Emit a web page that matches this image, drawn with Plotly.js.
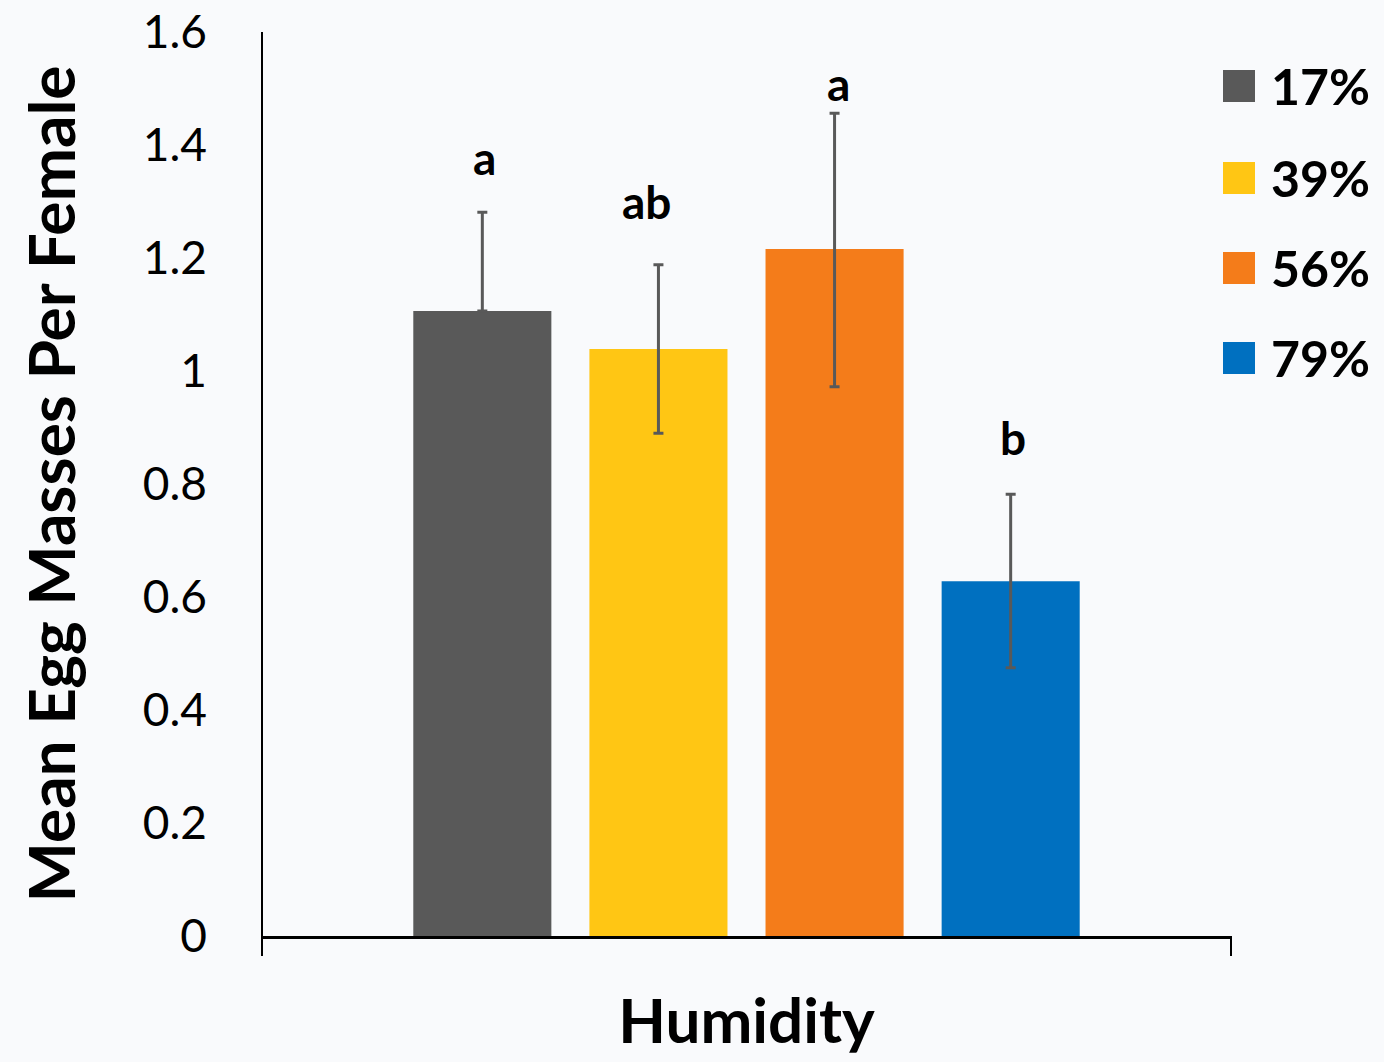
<!DOCTYPE html>
<html>
<head>
<meta charset="utf-8">
<script src="https://cdn.plot.ly/plotly-3.0.1.min.js"></script>
<style>html,body{margin:0;padding:0;background:#f9fafc;}</style>
</head>
<body>
<div id="chart" style="width:1384px;height:1062px;"></div>
<script>
const groups = ["17%", "39%", "56%", "79%"];
const means = [1.106, 1.039, 1.216, 0.628];
const errPlus = [0.175, 0.149, 0.24, 0.154];
const errMinus = [0, 0.149, 0.244, 0.153];
const letters = ["a", "ab", "a", "b"];
const letterY = [1.378, 1.3, 1.508, 0.882];
const letterShift = [0, -14, 2, 0];
const colors = ["#595959", "#ffc614", "#f47c1a", "#0070c0"];

const FONT = "Lato, 'Open Sans', sans-serif";
const traces = groups.map((g, i) => ({
  type: "bar",
  name: g,
  x: ["Humidity"],
  y: [means[i]],
  marker: {color: colors[i]},
  error_y: {type: "data", symmetric: false, array: [errPlus[i]], arrayminus: [errMinus[i]],
            color: "#595959", thickness: 3, width: 5},
  showlegend: false,
  hoverinfo: "skip"
}));

const annotations = letters.map((t, i) => ({
  xref: "x", yref: "y", x: 0, y: letterY[i], text: "<b>" + t + "</b>",
  xshift: -262 + i * 176 + letterShift[i], showarrow: false,
  font: {family: FONT, size: 46, color: "#000"}
}));

const shapes = [
  {type: "line", xref: "paper", yref: "paper", x0: 0, x1: 0, y0: -20/904, y1: 1, line: {color: "#000", width: 2}},
  {type: "line", xref: "paper", yref: "paper", x0: 1, x1: 1, y0: -20/904, y1: 0, line: {color: "#000", width: 2}}
];
const legendY = [86, 178, 268, 358];
groups.forEach((g, i) => {
  shapes.push({type: "rect", xref: "paper", yref: "paper",
    x0: (1222 - 261) / 969, x1: (1254 - 261) / 969,
    y0: (936 - legendY[i] - 16) / 904, y1: (936 - legendY[i] + 16) / 904,
    fillcolor: colors[i], line: {width: 0}});
  annotations.push({xref: "paper", yref: "paper", x: (1268 - 261) / 969, y: (936 - legendY[i]) / 904,
    xanchor: "left", yanchor: "middle", showarrow: false, text: "<b>" + g + "</b>",
    font: {family: FONT, size: 50, color: "#000"}});
});

const layout = {
  width: 1384, height: 1062,
  margin: {l: 262, r: 153, t: 32, b: 126},
  paper_bgcolor: "#f9fafc", plot_bgcolor: "#f9fafc",
  barmode: "group", bargap: 0.273, bargroupgap: 0.216,
  showlegend: false,
  font: {family: FONT, color: "#000"},
  xaxis: {
    type: "category", range: [-0.5, 0.5], showticklabels: false, ticks: "",
    showline: true, linecolor: "#000", linewidth: 3, showgrid: false, zeroline: false,
    title: {text: "<b>Humidity</b>", font: {family: FONT, size: 62, color: "#000"}, standoff: 62}
  },
  yaxis: {
    range: [0, 1.6], tickvals: [0, 0.2, 0.4, 0.6, 0.8, 1, 1.2, 1.4, 1.6],
    ticktext: ["0", "0.2", "0.4", "0.6", "0.8", "1", "1.2", "1.4", "1.6"],
    showgrid: false, zeroline: false, showline: false, ticks: "",
    ticklabelstandoff: 54,
    tickfont: {family: FONT, size: 46, color: "#000"},
    title: {text: "<b>Mean Egg Masses Per Female</b>", font: {family: FONT, size: 64, color: "#000"}, standoff: 46}
  },
  annotations: annotations,
  shapes: shapes
};

Plotly.newPlot("chart", traces, layout, {displayModeBar: false, staticPlot: true});
</script>
</body>
</html>
